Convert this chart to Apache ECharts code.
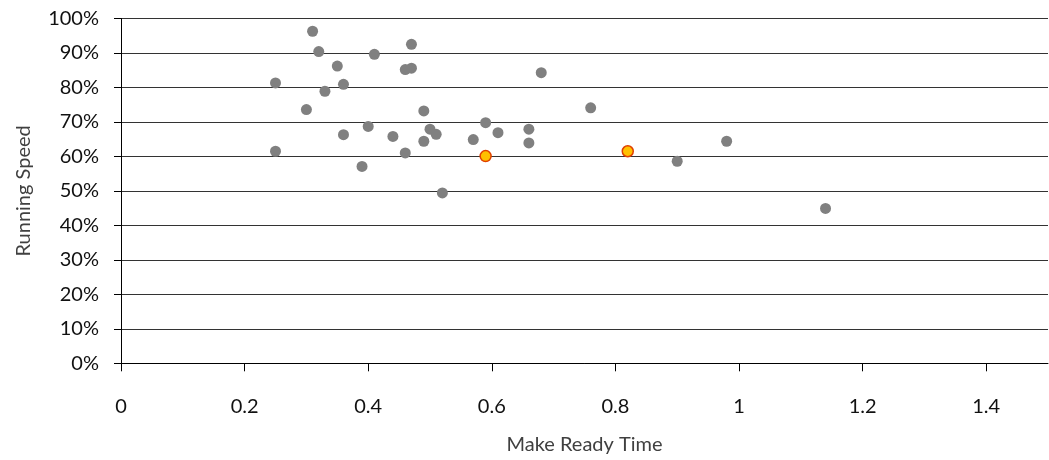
<!DOCTYPE html>
<html>
<head>
<meta charset="utf-8">
<script src="https://cdn.jsdelivr.net/npm/echarts@6/dist/echarts.min.js"></script>
<style>
html,body{margin:0;padding:0;background:#fff;}
#chart{width:1049px;height:460px;}
</style>
</head>
<body>
<div id="chart"></div>
<script>
// Make Ready Time (x) vs Running Speed in % (y)
const grayX = [0.25,0.25,0.30,0.31,0.32,0.33,0.35,0.36,0.36,0.39,0.40,0.41,0.44,0.46,0.47,0.47,0.46,0.49,0.49,0.50,0.51,0.52,0.57,0.59,0.61,0.66,0.66,0.68,0.76,0.90,0.98,1.14];
const grayY = [81.3,61.5,73.6,96.3,90.4,78.9,86.2,80.9,66.3,57.1,68.7,89.6,65.8,85.2,85.6,92.5,61.0,73.2,64.4,67.9,66.4,49.4,64.9,69.8,66.9,67.9,63.9,84.3,74.1,58.6,64.4,44.9];
const highlightX = [0.59,0.82];
const highlightY = [60.1,61.5];
const xTicks = [0,0.2,0.4,0.6,0.8,1,1.2,1.4];
const xName = 'Make Ready Time';
const yName = 'Running Speed';

const FONT = 'Lato';
const chart = echarts.init(document.getElementById('chart'));
chart.setOption({
  animation: false,
  backgroundColor: '#fff',
  grid: {left: 121, top: 18.5, right: 1, bottom: 96.7, containLabel: false, outerBoundsMode: 'none'},
  xAxis: {
    type: 'value', min: 0, max: 1.5,
    name: xName, nameLocation: 'middle', nameGap: 71,
    nameTextStyle: {fontFamily: FONT, fontSize: 20, color: '#404040'},
    axisLine: {show: true, onZero: false, lineStyle: {color: '#000', width: 1}},
    axisTick: {show: true, length: 8, customValues: xTicks, lineStyle: {color: '#000'}},
    axisLabel: {customValues: xTicks, margin: 33, fontFamily: FONT, fontSize: 20, color: '#111'},
    splitLine: {show: false}
  },
  yAxis: {
    type: 'value', min: 0, max: 100, interval: 10,
    name: yName, nameLocation: 'middle', nameGap: 87,
    nameTextStyle: {fontFamily: FONT, fontSize: 20, color: '#404040'},
    axisLine: {show: true, lineStyle: {color: '#000', width: 1}},
    axisTick: {show: true, length: 7, lineStyle: {color: '#000'}},
    axisLabel: {formatter: '{value}%', margin: 22, fontFamily: FONT, fontSize: 20, color: '#111'},
    splitLine: {show: true, lineStyle: {color: '#333', width: 1.2}}
  },
  series: [
    {
      type: 'scatter', symbol: 'circle', symbolSize: 11,
      itemStyle: {color: '#808080', opacity: 1},
      data: grayX.map((x, i) => [x, grayY[i]])
    },
    {
      type: 'scatter', symbol: 'circle', symbolSize: 11,
      itemStyle: {color: '#FFC000', borderColor: '#E04000', borderWidth: 1.5, opacity: 1},
      data: highlightX.map((x, i) => [x, highlightY[i]])
    }
  ]
});
</script>
</body>
</html>
